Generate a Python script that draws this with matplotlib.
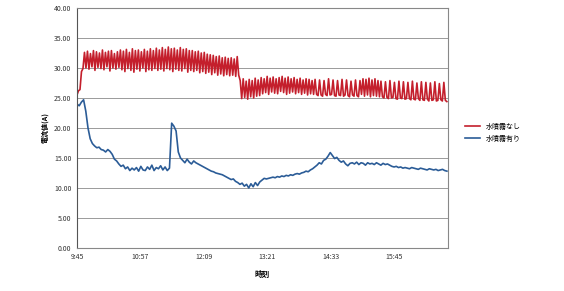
import numpy as np
import matplotlib
matplotlib.use("Agg")
import matplotlib.pyplot as plt

plt.rcParams['font.family'] = ['Noto Sans CJK JP', 'DejaVu Sans']

# 電流値 (A), 水噴霧なし  -- sampled every 1.7 min from 9:45
red = [25.5, 26.2, 26.4, 29.4, 29.9,
       32.6, 30.0, 32.8, 29.8, 32.4, 30.2, 32.9, 29.6, 32.7, 30.1, 32.5, 29.9,
       33.0, 29.7, 32.6, 30.2, 32.8, 29.5, 32.9, 30.0, 32.4, 29.8, 32.7, 30.1,
       33.0, 29.7, 32.8, 29.4, 33.1, 29.9, 32.6, 29.6, 33.2, 29.3, 32.9, 29.8,
       33.0, 29.5, 32.7, 30.0, 33.1, 29.4, 32.8, 29.7, 33.2, 29.6, 32.9, 29.9,
       33.3, 29.6, 33.0, 29.8, 33.4, 29.5, 33.1, 29.9, 33.5, 29.7, 33.2, 29.4,
       33.3, 29.8, 33.0, 29.6, 33.4, 29.5, 33.1, 29.9, 33.2, 29.3, 32.9, 29.6,
       32.9, 29.4, 32.7, 29.6, 32.8, 29.2, 32.5, 29.4, 32.6, 29.1, 32.3, 29.3,
       32.2, 28.9, 32.1, 29.2, 31.9, 28.8, 32.0, 29.0, 31.7, 28.7, 31.8, 28.9,
       31.6, 28.7, 31.7, 28.8, 31.5, 28.6, 31.9, 28.8,
       27.9, 24.9, 28.2, 25.1, 27.8, 24.8, 28.1, 25.2, 27.9, 25.0, 28.3, 25.3, 28.0, 25.4,
       28.4, 25.7, 28.2, 25.9, 28.6, 25.6, 28.3, 26.0, 28.5, 25.8, 28.2, 25.7,
       28.4, 26.1, 28.6, 25.9, 28.3, 25.6, 28.5, 25.8, 28.2, 26.0, 28.4, 25.7,
       28.1, 25.9, 28.3, 25.6, 28.0, 25.8, 28.2, 25.5, 28.1, 25.7, 27.9, 25.6,
       28.1, 25.6, 25.4, 28.0, 25.5, 25.3, 27.9, 25.6, 25.4, 28.2, 25.5, 25.6,
       28.0, 25.4, 25.3, 27.9, 25.5, 25.4, 28.1, 25.3, 25.5, 28.0, 25.4, 25.2,
       27.8, 25.5, 25.3, 28.0, 25.4, 25.2, 27.9, 25.6,
       28.2, 25.3, 28.1, 25.5, 28.3, 25.2, 28.0, 25.4, 28.2, 25.3, 27.9, 25.2,
       27.8, 25.2, 25.0, 27.7, 25.1, 24.9, 27.9, 25.0, 25.1, 27.6, 24.9, 24.8,
       27.8, 25.0, 24.9, 27.7, 24.8, 24.9, 27.6, 24.9, 24.7, 27.8, 24.8, 24.7,
       27.5, 24.9, 24.6, 27.7, 24.7, 24.6, 27.6, 24.8, 24.5, 27.5, 24.6, 24.7,
       27.7, 24.5, 24.6, 27.4, 24.7, 24.5, 27.6, 24.6, 24.4]

# 電流値 (A), 水噴霧有り  -- sampled every 2.5 min from 9:45
blue = [24.0, 23.7, 24.3, 24.7, 22.8, 20.0, 18.2, 17.4, 17.0, 16.7, 16.8, 16.4,
        16.3, 16.0, 16.4, 16.1, 15.6, 14.8, 14.5, 14.0, 13.6, 13.8, 13.2, 13.5,
        12.9, 13.3, 13.0,
        13.4, 12.8, 13.6, 13.0, 12.9, 13.5, 13.1, 13.8, 12.9, 13.4, 13.2, 13.7,
        13.0, 13.5, 12.9, 13.3,
        20.8, 20.3, 19.5, 16.0, 15.0, 14.6, 14.2, 14.8, 14.3, 14.0, 14.5, 14.2,
        14.0, 13.8, 13.6, 13.4, 13.2, 13.0, 12.8, 12.7, 12.5, 12.4, 12.3, 12.2,
        12.0, 11.8, 11.6, 11.4, 11.5, 11.1, 10.9, 10.6, 10.8, 10.3, 10.6, 10.0,
        10.7, 10.2, 10.9, 10.4, 11.0, 11.3, 11.6, 11.5, 11.6, 11.7,
        11.8, 11.7, 11.9, 11.8, 12.0, 11.9, 12.1, 12.0, 12.2, 12.1, 12.3, 12.4,
        12.3, 12.5, 12.6, 12.8, 12.7, 13.0, 13.2, 13.5,
        13.8, 14.2, 14.0, 14.6, 14.8, 15.3, 15.9, 15.4, 14.9, 15.1, 14.6, 14.3,
        14.5, 14.0, 13.7, 14.1, 14.2,
        14.0, 14.3, 13.9, 14.2, 14.1, 13.8, 14.2, 14.0, 14.1, 13.9, 14.2, 14.0,
        13.8, 14.1, 13.9, 14.0, 13.8, 13.6, 13.5, 13.6, 13.4, 13.5, 13.3, 13.4,
        13.3, 13.2, 13.4, 13.3, 13.2, 13.1, 13.3, 13.2, 13.1, 13.0, 13.2, 13.1,
        13.0, 13.1, 12.9, 13.0, 13.1, 12.9, 12.8]

tick_min = [0, 72, 144, 216, 288, 360]
tick_labels = ['9:45', '10:57', '12:09', '13:21', '14:33', '15:45']

red_t = np.arange(len(red)) * 1.7
blue_t = np.arange(len(blue)) * 2.5

fig = plt.figure(figsize=(5.64, 2.91), dpi=100)
ax = fig.add_axes([0.1365, 0.148, 0.6575, 0.8245])

ax.plot(red_t, red, color='#c41f2c', lw=1.2, label='水噴霧なし')
ax.plot(blue_t, blue, color='#2b5c97', lw=1.2, label='水噴霧有り')

ax.set_xlim(0, 421)
ax.set_ylim(0, 40)
ax.set_yticks(np.arange(0, 41, 5))
ax.set_yticklabels(['%.2f' % v for v in np.arange(0, 41, 5)])
ax.set_xticks(tick_min)
ax.set_xticklabels(tick_labels)
ax.tick_params(labelsize=5, length=0, pad=4, colors='#333333')
ax.yaxis.grid(True, color='#9a9a9a', lw=0.7)
ax.set_axisbelow(True)
for s in ax.spines.values():
    s.set_color('#888888')
    s.set_linewidth(0.8)
ax.spines['left'].set_color('#555555')

ax.set_ylabel('電流値(A)', fontsize=5, fontweight='bold', labelpad=4)
ax.set_xlabel('時刻', fontsize=5.5, fontweight='bold', labelpad=6)

ax.legend(loc='center left', bbox_to_anchor=(1.03, 0.48), frameon=False,
          fontsize=5, handlelength=2.2, labelspacing=0.6)

fig.savefig('out.png', dpi=100)
